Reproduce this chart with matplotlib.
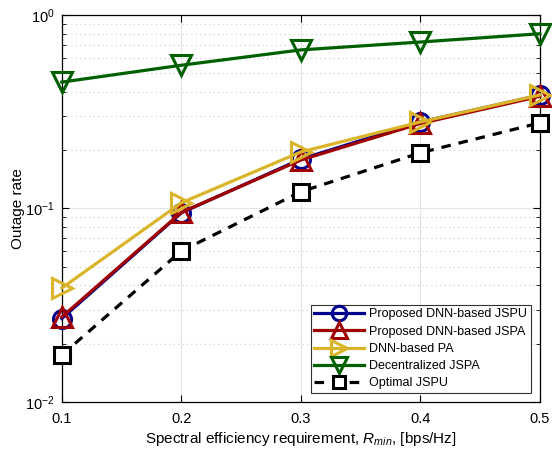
import numpy as np
import matplotlib
matplotlib.use("Agg")
import matplotlib.pyplot as plt

plt.rcParams['font.family'] = ['Liberation Sans', 'DejaVu Sans']
plt.rcParams['mathtext.fontset'] = 'custom'
plt.rcParams['mathtext.rm'] = 'Liberation Sans'
plt.rcParams['mathtext.it'] = 'Liberation Sans:italic'
plt.rcParams['mathtext.default'] = 'regular'

r_min = [0.1, 0.2, 0.3, 0.4, 0.5]
jspu_dnn = [0.027, 0.095, 0.18, 0.28, 0.385]
jspa_dnn = [0.0275, 0.0955, 0.178, 0.275, 0.38]
pa_dnn = [0.0388, 0.107, 0.196, 0.28, 0.386]
jspa_dec = [0.45, 0.55, 0.66, 0.725, 0.80]
jspu_opt = [0.0175, 0.0603, 0.122, 0.194, 0.277]

fig = plt.figure(figsize=(5.52, 4.53), dpi=100)
ax = fig.add_axes([0.112, 0.1126, 0.866, 0.8543])

lw = 2.3
mew = 2.2
ax.plot(r_min, jspu_dnn, color='#00008f', lw=lw, marker='o', ms=13,
        mfc='none', mew=mew, label='Proposed DNN-based JSPU', zorder=3, clip_on=False)
ax.plot(r_min, jspa_dnn, color='#a00000', lw=lw, marker='^', ms=14,
        mfc='none', mew=mew, label='Proposed DNN-based JSPA', zorder=4, clip_on=False)
ax.plot(r_min, pa_dnn, color='#dab52a', lw=lw, marker='>', ms=14,
        mfc='none', mew=mew, label='DNN-based PA', zorder=5, clip_on=False)
ax.plot(r_min, jspa_dec, color='#006000', lw=lw, marker='v', ms=14,
        mfc='none', mew=mew, label='Decentralized JSPA', zorder=3, clip_on=False)
ax.plot(r_min, jspu_opt, color='black', lw=lw, ls=(0, (3, 2.5)), marker='s', ms=11,
        mfc='white', mew=mew, label='Optimal JSPU', zorder=3, clip_on=False)

ax.set_yscale('log')
ax.set_xlim(0.1, 0.5)
ax.set_ylim(1e-2, 1)
ax.set_xticks(r_min)
ax.set_xticklabels(['0.1', '0.2', '0.3', '0.4', '0.5'])

ax.grid(True, which='major', color='#e3e3e3', lw=0.8, ls='-')
ax.grid(True, which='minor', axis='y', color='#cccccc', lw=0.8, ls=(0, (1, 3)))
ax.set_axisbelow(True)

ax.tick_params(which='both', direction='in', top=True, right=True, labelsize=10.5)
ax.tick_params(axis='x', pad=7)
ax.tick_params(axis='y', pad=5)
ax.tick_params(which='major', length=5)
ax.tick_params(which='minor', length=3)
for s in ax.spines.values():
    s.set_linewidth(0.9)

ax.set_xlabel('Spectral efficiency requirement, $\\mathit{R_{min}}$, [bps/Hz]', fontsize=11,
              labelpad=3)
ax.set_ylabel('Outage rate', fontsize=11, labelpad=0)

leg = ax.legend(loc='lower right', fontsize=9, handlelength=4.0, markerscale=0.8,
                fancybox=False, edgecolor='#333333', framealpha=1,
                borderpad=0.3, labelspacing=0.42, handletextpad=0.4,
                borderaxespad=0.7)
leg.get_frame().set_linewidth(0.8)

fig.savefig('out.png', dpi=100)
